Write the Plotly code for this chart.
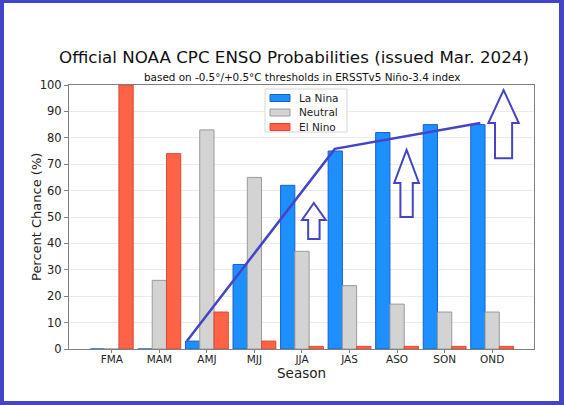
import plotly.graph_objects as go

seasons = ["FMA", "MAM", "AMJ", "MJJ", "JJA", "JAS", "ASO", "SON", "OND"]
la_nina = [0, 0, 3, 32, 62, 75, 82, 85, 85]
neutral = [0, 26, 83, 65, 37, 24, 17, 14, 14]
el_nino = [100, 74, 14, 3, 1, 1, 1, 1, 1]
series_names = ["La Nina", "Neutral", "El Nino"]
fill_colors = ["#1e8fff", "#d3d3d3", "#ff6347"]
edge_colors = ["#1a5fd0", "#9a9a9a", "#d84a35"]

idx = list(range(len(seasons)))

# hand-drawn overlay (data coordinates)
trend_x = [1.58, 4.69, 7.75]
trend_y = [3, 75.8, 85.6]
# arrows: (center x, tip y, head base y, bottom y, head half width, shaft half width)
arrows = [
    (4.25, 55.3, 48.9, 41.7, 0.25, 0.12),
    (6.20, 75.4, 62.9, 50.0, 0.26, 0.13),
    (8.24, 98.1, 85.6, 72.3, 0.32, 0.18),
]

BLUE = "#4545c4"
FONT = "DejaVu Sans"

fig = go.Figure()
for name, vals, fc, ec in zip(series_names, [la_nina, neutral, el_nino], fill_colors, edge_colors):
    fig.add_bar(x=idx, y=vals, name=name, marker=dict(color=fc, line=dict(color=ec, width=1)))

fig.add_trace(go.Scatter(x=trend_x, y=trend_y, mode="lines", line=dict(color=BLUE, width=2.5),
                         showlegend=False, hoverinfo="skip"))

shapes = []
for cx, tip, hb, bot, hw, sw in arrows:
    path = (f"M {cx-sw},{bot} L {cx-sw},{hb} L {cx-hw},{hb} L {cx},{tip} "
            f"L {cx+hw},{hb} L {cx+sw},{hb} L {cx+sw},{bot} Z")
    shapes.append(dict(type="path", xref="x", yref="y", path=path,
                       line=dict(color=BLUE, width=2), fillcolor="rgba(0,0,0,0)", layer="above"))

# plot area is 465x264 px starting at (69, 85)
def px(x):
    return (x - 69) / 465
def py(y):
    return (349 - y) / 264

# blue frame around the picture
for (x0, y0, x1, y1) in [(0, 0, 4, 405), (0, 0, 564, 3), (559, 0, 564, 405), (0, 401, 564, 405)]:
    shapes.append(dict(type="rect", xref="paper", yref="paper", x0=px(x0), x1=px(x1), y0=py(y1), y1=py(y0),
                       fillcolor="#4444c8", line=dict(width=0), layer="above"))

annotations = [
    dict(text="Official NOAA CPC ENSO Probabilities (issued Mar. 2024)", xref="paper", yref="paper",
         x=px(294), y=py(57), xanchor="center", yanchor="middle", showarrow=False,
         font=dict(size=16.7, family=FONT, color="#111111")),
    dict(text="based on -0.5°/+0.5°C thresholds in ERSSTv5 Niño-3.4 index", xref="paper", yref="paper",
         x=px(302), y=py(77), xanchor="center", yanchor="middle", showarrow=False,
         font=dict(size=10.4, family=FONT, color="#111111")),
    dict(text="Percent Chance (%)", xref="paper", yref="paper", textangle=-90,
         x=px(36), y=0.5, xanchor="center", yanchor="middle", showarrow=False,
         font=dict(size=13, family=FONT, color="#222222")),
    dict(text="Season", xref="paper", yref="paper",
         x=0.5, y=py(373), xanchor="center", yanchor="middle", showarrow=False,
         font=dict(size=13.5, family=FONT, color="#222222")),
]

# legend drawn by hand (tight matplotlib-like spacing)
shapes.append(dict(type="rect", xref="paper", yref="paper", x0=px(265), x1=px(347), y0=py(132), y1=py(89),
                   fillcolor="white", line=dict(color="#d6d6d6", width=1), layer="above"))
for i, (name, fc, ec) in enumerate(zip(series_names, fill_colors, edge_colors)):
    cy = 98 + i * 14.5
    shapes.append(dict(type="rect", xref="paper", yref="paper", x0=px(270), x1=px(290),
                       y0=py(cy + 3.5), y1=py(cy - 3.5), fillcolor=fc,
                       line=dict(color=ec, width=1), layer="above"))
    annotations.append(dict(text=name, xref="paper", yref="paper", x=px(297), y=py(cy),
                            xanchor="left", yanchor="middle", showarrow=False,
                            font=dict(size=10.5, family=FONT, color="#222222")))

fig.update_layout(
    width=564, height=405,
    margin=dict(l=69, r=30, t=85, b=56),
    paper_bgcolor="white", plot_bgcolor="white",
    barmode="group", bargap=0.1, bargroupgap=0,
    font=dict(family=FONT, color="#222222", size=11),
    showlegend=False,
    shapes=shapes,
    annotations=annotations,
)
fig.update_xaxes(range=[-0.9, 8.88], tickmode="array", tickvals=idx, ticktext=seasons,
                 showline=True, mirror=True, linecolor="#808080", linewidth=1,
                 ticks="outside", ticklen=3, tickcolor="#808080", showgrid=False, zeroline=False,
                 ticklabelposition="outside", ticklabelstandoff=-3,
                 tickfont=dict(size=10.5, family=FONT))
fig.update_yaxes(range=[0, 100], dtick=10, showline=True, mirror=True, linecolor="#808080", linewidth=1,
                 ticks="outside", ticklen=4, tickcolor="#808080", showgrid=True, gridcolor="#ebebeb",
                 zeroline=False,
                 tickfont=dict(size=11.5, family=FONT))

fig.write_html("out.html")
